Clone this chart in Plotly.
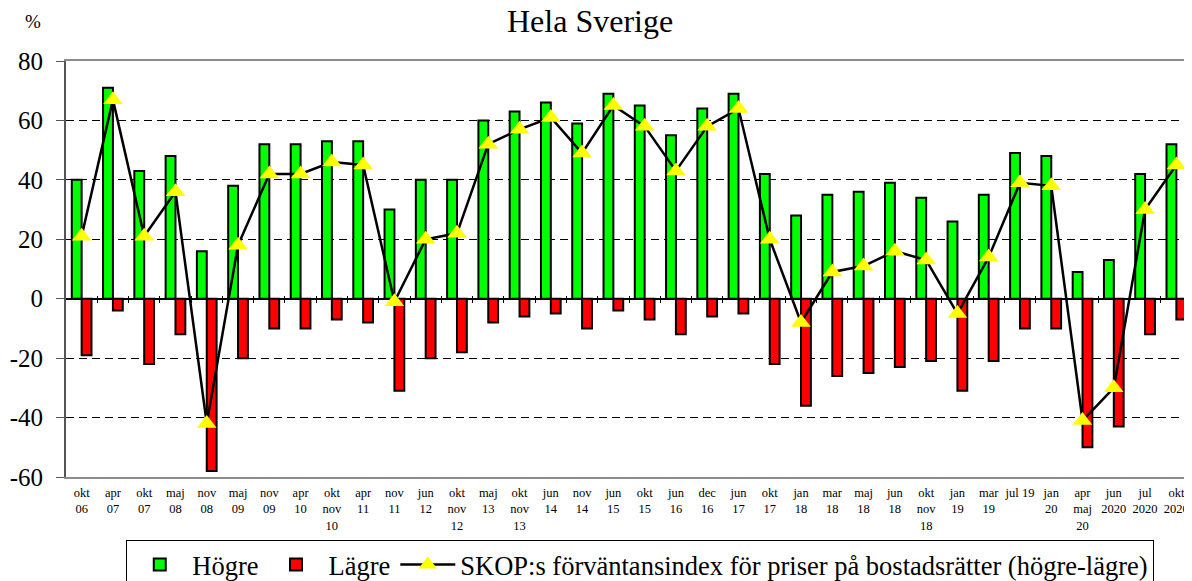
import plotly.graph_objects as go

categories = ["okt<br>06", "apr<br>07", "okt<br>07", "maj<br>08", "nov<br>08", "maj<br>09",
              "nov<br>09", "apr<br>10", "okt<br>nov<br>10", "apr<br>11", "nov<br>11", "jun<br>12",
              "okt<br>nov<br>12", "maj<br>13", "okt<br>nov<br>13", "jun<br>14", "nov<br>14", "jun<br>15",
              "okt<br>15", "jun<br>16", "dec<br>16", "jun<br>17", "okt<br>17", "jan<br>18",
              "mar<br>18", "maj<br>18", "jun<br>18", "okt<br>nov<br>18", "jan<br>19", "mar<br>19",
              "jul 19", "jan<br>20", "apr<br>maj<br>20", "jun<br>2020", "jul<br>2020", "okt<br>2020"]
hogre = [40, 71, 43, 48, 16, 38, 52, 52, 53, 53, 30, 40, 40, 60, 63, 66, 59, 69, 65, 55, 64, 69,
         42, 28, 35, 36, 39, 34, 26, 35, 49, 48, 9, 13, 42, 52]
lagre = [-19, -4, -22, -12, -58, -20, -10, -10, -7, -8, -31, -20, -18, -8, -6, -5, -10, -4, -7, -12,
         -6, -5, -22, -36, -26, -25, -23, -21, -31, -21, -10, -10, -50, -43, -12, -7]
index = [21, 67, 21, 36, -42, 18, 42, 42, 46, 45, -1, 20, 22, 52, 57, 61, 49, 65, 58, 43, 58, 64,
         20, -8, 9, 11, 16, 13, -5, 14, 39, 38, -41, -30, 30, 45]
ytickvals = [-60, -40, -20, 0, 20, 40, 60, 80]
yticktext = ["-60", "-40", "-20", "0", "20", "40", "60", "80"]
ymin, ymax = -60, 80

FONT = "Liberation Serif"
n = len(categories)
boundaries = [i + 0.5 for i in range(n - 1)]
zero_pos = (0 - ymin) / (ymax - ymin)

fig = go.Figure()
fig.add_trace(go.Bar(x=categories, y=hogre, name="Högre",
                     marker=dict(color="#00ff00", line=dict(color="black", width=2))))
fig.add_trace(go.Bar(x=categories, y=lagre, name="Lägre",
                     marker=dict(color="#ff0000", line=dict(color="black", width=2))))
fig.add_trace(go.Scatter(x=categories, y=index, mode="lines+markers",
                         name="SKOP:s förväntansindex för priser på bostadsrätter (högre-lägre)",
                         line=dict(color="black", width=2.5),
                         marker=dict(symbol="triangle-up", size=17, color="#ffff00")))

# the page body adds an 8px offset, so the figure is sized to fill the rest of the window
fig.update_layout(
    width=1184, height=573,
    margin=dict(l=58, r=0, t=53, b=104, autoexpand=False),
    paper_bgcolor="white", plot_bgcolor="white",
    font=dict(family=FONT, color="black"),
    barmode="group", bargap=0.37, bargroupgap=0,
    title=dict(text="Hela Sverige", x=0.4916, xanchor="center", y=0.997, yanchor="top",
               yref="container", font=dict(size=32, family=FONT)),
    showlegend=True,
    legend=dict(orientation="h", x=0.51, xanchor="center", y=-0.151, yanchor="top",
                font=dict(size=26.5, family=FONT), bordercolor="black", borderwidth=1,
                bgcolor="white", itemwidth=55, traceorder="normal"),
    xaxis=dict(type="category", showgrid=False, zeroline=False, ticks="",
               showline=True, linecolor="#8c8c8c", linewidth=2, mirror=True,
               tickfont=dict(size=12.5, family=FONT), tickangle=0, ticklabelstandoff=3,
               range=[-0.5, n - 0.5], automargin=False),
    xaxis2=dict(overlaying="x", anchor="free", position=zero_pos, range=[-0.5, n - 0.5],
                tickvals=boundaries, ticks="outside", ticklen=3, tickwidth=1, tickcolor="black",
                showticklabels=False, showgrid=False, zeroline=False, showline=False),
    xaxis3=dict(overlaying="x", anchor="free", position=zero_pos, range=[-0.5, n - 0.5],
                tickvals=boundaries, ticks="inside", ticklen=3, tickwidth=1, tickcolor="black",
                showticklabels=False, showgrid=False, zeroline=False, showline=False),
    yaxis=dict(range=[ymin, ymax], tickvals=ytickvals, ticktext=yticktext,
               showgrid=True, gridcolor="black", griddash="8px,5px", gridwidth=1,
               zeroline=True, zerolinecolor="black", zerolinewidth=1.5,
               showline=True, linecolor="#555555", linewidth=2, mirror=True,
               ticks="outside", ticklen=8, tickcolor="#555555",
               tickfont=dict(size=25, family=FONT), ticklabelstandoff=8, automargin=False),
)
# invisible traces to activate overlay axes
fig.add_trace(go.Scatter(x=[None], y=[None], xaxis="x2", showlegend=False, hoverinfo="skip"))
fig.add_trace(go.Scatter(x=[None], y=[None], xaxis="x3", showlegend=False, hoverinfo="skip"))

fig.add_annotation(text="%", xref="paper", yref="paper", x=-0.029, y=1.094,
                   xanchor="center", yanchor="middle", showarrow=False,
                   font=dict(size=19, family=FONT))

fig.write_html("out.html")
